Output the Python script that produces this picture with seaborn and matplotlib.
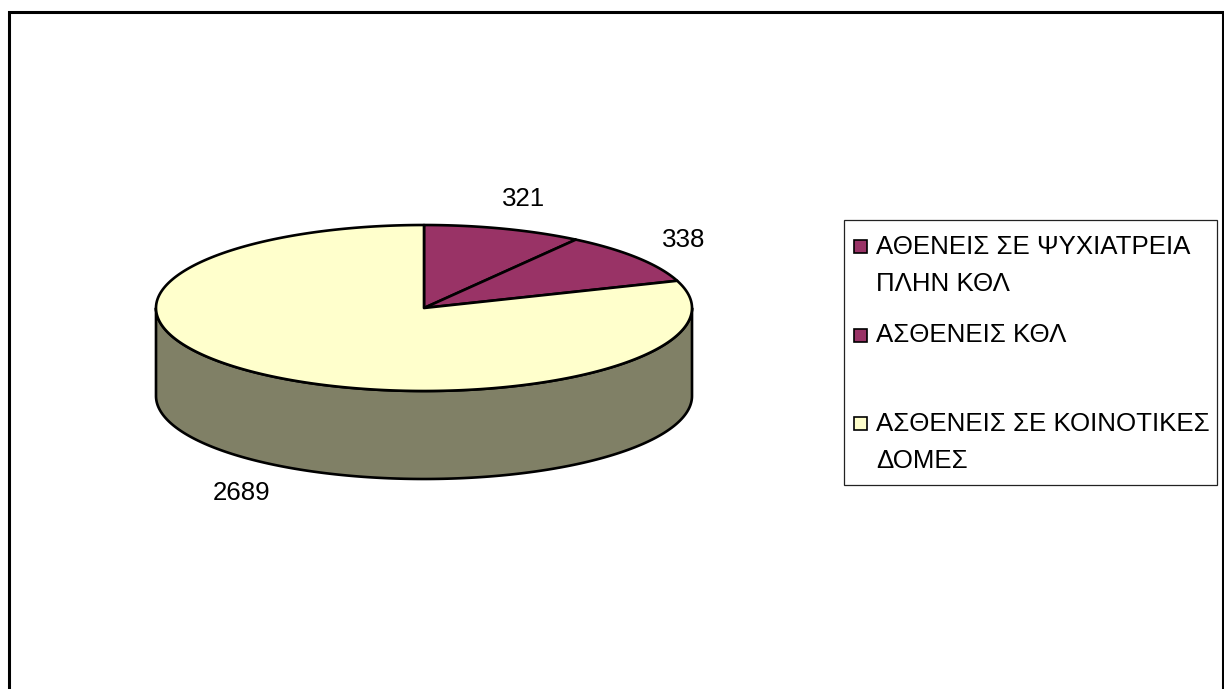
import numpy as np
import matplotlib
matplotlib.use("Agg")
import matplotlib.pyplot as plt
from matplotlib.patches import Polygon, Rectangle
from matplotlib import font_manager
import seaborn as sns

# ---- data ----
categories = ["ΑΘΕΝΕΙΣ ΣΕ ΨΥΧΙΑΤΡΕΙΑ\nΠΛΗΝ ΚΘΛ", "ΑΣΘΕΝΕΙΣ ΚΘΛ", "ΑΣΘΕΝΕΙΣ ΣΕ ΚΟΙΝΟΤΙΚΕΣ\nΔΟΜΕΣ"]
values = [321, 338, 2689]
colors = ["#993366", "#993366", "#FFFFCC"]

sns.set_theme(style="white")
names = {f.name for f in font_manager.fontManager.ttflist}
if "Liberation Sans Narrow" in names:
    fam = ["Liberation Sans Narrow", "Liberation Sans", "DejaVu Sans"]
    fs = 21.5
else:
    fam = ["Liberation Sans", "DejaVu Sans"]
    fs = 18.6
plt.rcParams["font.family"] = fam

fig = plt.figure(figsize=(12.24, 6.89), dpi=100)
ax = fig.add_axes([0, 0, 1, 1])
ax.set_xlim(0, 1224)
ax.set_ylim(689, 0)
ax.axis("off")

# geometry of the 3D pie (pixel units)
cx, cy, rx, ry, depth = 424, 308, 268, 83, 88
lw = 1.9


def darken(c, f=0.5):
    r, g, b = matplotlib.colors.to_rgb(c)
    return (r * f, g * f, b * f)


def ell(th, dy=0.0):
    return cx + rx * np.cos(th), cy - ry * np.sin(th) + dy


total = float(sum(values))
spans = [v / total * 2 * np.pi for v in values]
starts = []
a = np.pi / 2
for s in spans:
    starts.append(a)
    a -= s

# side faces (front half: angles in [pi, 2pi])
for st, sp, col in zip(starts, spans, colors):
    hi, lo = st, st - sp  # wedge covers [lo, hi]
    for k in range(-2, 3):
        f_lo, f_hi = np.pi + 2 * np.pi * k, 2 * np.pi + 2 * np.pi * k
        a0, a1 = max(lo, f_lo), min(hi, f_hi)
        if a1 > a0:
            th = np.linspace(a0, a1, 200)
            xt, yt = ell(th)
            xb, yb = ell(th[::-1], depth)
            pts = np.column_stack([np.r_[xt, xb], np.r_[yt, yb]])
            ax.add_patch(Polygon(pts, closed=True, facecolor=darken(col),
                                 edgecolor="black", lw=lw, joinstyle="round", zorder=2))

# top faces
for st, sp, col in zip(starts, spans, colors):
    th = np.linspace(st, st - sp, 400)
    xa, ya = ell(th)
    pts = np.column_stack([np.r_[cx, xa], np.r_[cy, ya]])
    ax.add_patch(Polygon(pts, closed=True, facecolor=col, edgecolor="black",
                         lw=lw, joinstyle="round", zorder=3))

# data labels
for st, sp, v in zip(starts, spans, values):
    m = st - sp / 2
    lx = cx + rx * 1.2 * np.cos(m) + 4
    ly = cy - ry * 1.4 * np.sin(m) + (depth if np.sin(m) < 0 else 0) + 2
    ax.text(lx, ly, f"{v}", ha="center", va="center", fontsize=fs, color="black", zorder=5)

# legend
ax.add_patch(Rectangle((844, 220), 373, 265, facecolor="white", edgecolor="#222222", lw=0.9, zorder=4))
for i, (lab, col) in enumerate(zip(categories, colors)):
    yc = 247 + 88.5 * i
    ax.add_patch(Rectangle((853.5, yc - 7), 13, 13, facecolor=col, edgecolor="black", lw=1.2, zorder=5))
    for j, line in enumerate(lab.split("\n")):
        ax.text(876, yc + 37 * j, line, ha="left", va="center", fontsize=fs, color="black", zorder=5)

# outer frame (bottom edge falls outside the image)
ax.plot([8.5, 8.5, 1222.5, 1222.5], [700, 12, 12, 700], color="black", lw=2.2,
        solid_joinstyle="miter", zorder=6, clip_on=False)

fig.savefig("out.png", dpi=100, facecolor="white")
